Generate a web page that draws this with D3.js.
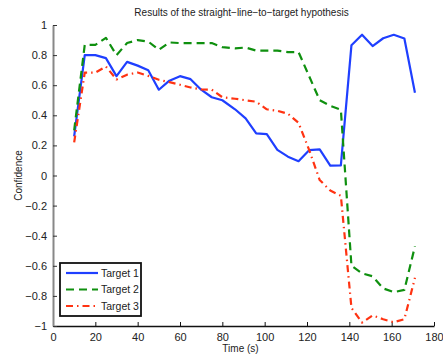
<!DOCTYPE html>
<html>
<head>
<meta charset="utf-8">
<script src="https://cdn.jsdelivr.net/npm/d3@7"></script>
<style>
  body { margin: 0; background: #fff; }
  text { font-family: "Liberation Sans", Arial, sans-serif; fill: #222; }
</style>
</head>
<body>
<script>
// temps (s) des echantillons
const times = [10, 15, 20, 25, 30, 35, 40, 45, 50, 55, 60, 65, 70, 75, 80, 86, 91, 96, 101, 106, 111, 116, 121, 126, 131, 136, 141, 146, 151, 156, 161, 166, 171]

// confiance par cible
const target1 = [0.26, 0.80, 0.80, 0.78, 0.66, 0.755, 0.73, 0.70, 0.57, 0.63, 0.66, 0.64, 0.57, 0.52, 0.50, 0.44, 0.38, 0.28, 0.275, 0.17, 0.125, 0.095, 0.168, 0.173, 0.065, 0.067, 0.866, 0.935, 0.86, 0.912, 0.935, 0.91, 0.55]
const target2 = [0.30, 0.868, 0.868, 0.915, 0.80, 0.88, 0.90, 0.89, 0.835, 0.884, 0.88, 0.88, 0.88, 0.88, 0.853, 0.845, 0.85, 0.83, 0.83, 0.83, 0.82, 0.82, 0.66, 0.50, 0.463, 0.437, -0.60, -0.65, -0.67, -0.75, -0.775, -0.76, -0.47]
const target3 = [0.22, 0.684, 0.684, 0.724, 0.638, 0.67, 0.684, 0.662, 0.636, 0.62, 0.603, 0.585, 0.572, 0.57, 0.52, 0.51, 0.50, 0.49, 0.44, 0.43, 0.41, 0.35, 0.17, -0.03, -0.10, -0.135, -0.88, -0.977, -0.93, -0.955, -0.975, -0.955, -0.68]

const seriesNames = ["Target 1", "Target 2", "Target 3"]
const xTicks = [0, 20, 40, 60, 80, 100, 120, 140, 160, 180]
const yTicks = [-1, -0.8, -0.6, -0.4, -0.2, 0, 0.2, 0.4, 0.6, 0.8, 1]

const colors = ["#1f3fff", "#0f900f", "#ff3312"]
const dashes = [null, "8,5", "7,4,1.5,4"]

const width = 443, height = 356
const margin = { top: 25, right: 9, bottom: 30, left: 53 }
const w = width - margin.left - margin.right
const h = height - margin.top - margin.bottom

const svg = d3.select("body").append("svg")
    .attr("width", width)
    .attr("height", height)

const g = svg.append("g")
    .attr("transform", "translate(" + margin.left + "," + margin.top + ")")

const x = d3.scaleLinear().domain([0, 180]).range([0, w])
const y = d3.scaleLinear().domain([-1, 1]).range([h, 0])

// axe x (ticks vers l'interieur)
const xAxis = g.append("g")
    .attr("transform", "translate(0," + h + ")")
    .call(d3.axisBottom(x).tickValues(xTicks).tickSizeInner(-4).tickSizeOuter(0).tickPadding(8).tickFormat(d3.format("d")))
xAxis.select(".domain").attr("stroke", "#111").attr("stroke-width", 1.6)
xAxis.selectAll(".tick line").attr("stroke", "#111")
xAxis.selectAll("text").attr("font-size", 11).attr("dy", "0.6em")

// axe y
const yAxis = g.append("g")
    .call(d3.axisLeft(y).tickValues(yTicks).tickSizeInner(-4).tickSizeOuter(0).tickPadding(6)
        .tickFormat(d => d3.format("")(Math.round(d * 10) / 10).replace("-", "\u2212")))
yAxis.select(".domain").attr("stroke", "#888").attr("stroke-width", 2)
yAxis.selectAll(".tick line").attr("stroke", "#333")
yAxis.selectAll("text").attr("font-size", 11)

// titres
svg.append("text")
    .attr("x", margin.left + w / 2 - 2)
    .attr("y", 16)
    .attr("text-anchor", "middle")
    .attr("font-size", 10)
    .text("Results of the straight\u2212line\u2212to\u2212target hypothesis")

svg.append("text")
    .attr("x", margin.left + w / 2 - 3)
    .attr("y", 352)
    .attr("text-anchor", "middle")
    .attr("font-size", 10)
    .text("Time (s)")

svg.append("text")
    .attr("transform", "translate(22," + (margin.top + h / 2) + ")rotate(-90)")
    .attr("text-anchor", "middle")
    .attr("font-size", 10)
    .text("Confidence")

// courbes
const allSeries = [target1, target2, target3]
const line = d3.line()
    .x((d, i) => x(times[i]))
    .y(d => y(d))

allSeries.forEach((vals, k) => {
    g.append("path")
        .datum(vals)
        .attr("fill", "none")
        .attr("stroke", colors[k])
        .attr("stroke-width", 2.2)
        .attr("stroke-linejoin", "round")
        .attr("stroke-dasharray", dashes[k])
        .attr("d", line)
})

// legende
const leg = svg.append("g").attr("transform", "translate(60,263)")
leg.append("rect")
    .attr("width", 81)
    .attr("height", 53)
    .attr("fill", "#fff")
    .attr("stroke", "#111")
    .attr("stroke-width", 1.8)

seriesNames.forEach((name, k) => {
    const yy = 10 + k * 16.5
    leg.append("line")
        .attr("x1", 6).attr("x2", 38)
        .attr("y1", yy).attr("y2", yy)
        .attr("stroke", colors[k])
        .attr("stroke-width", 2.2)
        .attr("stroke-dasharray", dashes[k])
    leg.append("text")
        .attr("x", 41)
        .attr("y", yy)
        .attr("dy", "0.35em")
        .attr("font-size", 10.5)
        .text(name)
})
</script>
</body>
</html>
